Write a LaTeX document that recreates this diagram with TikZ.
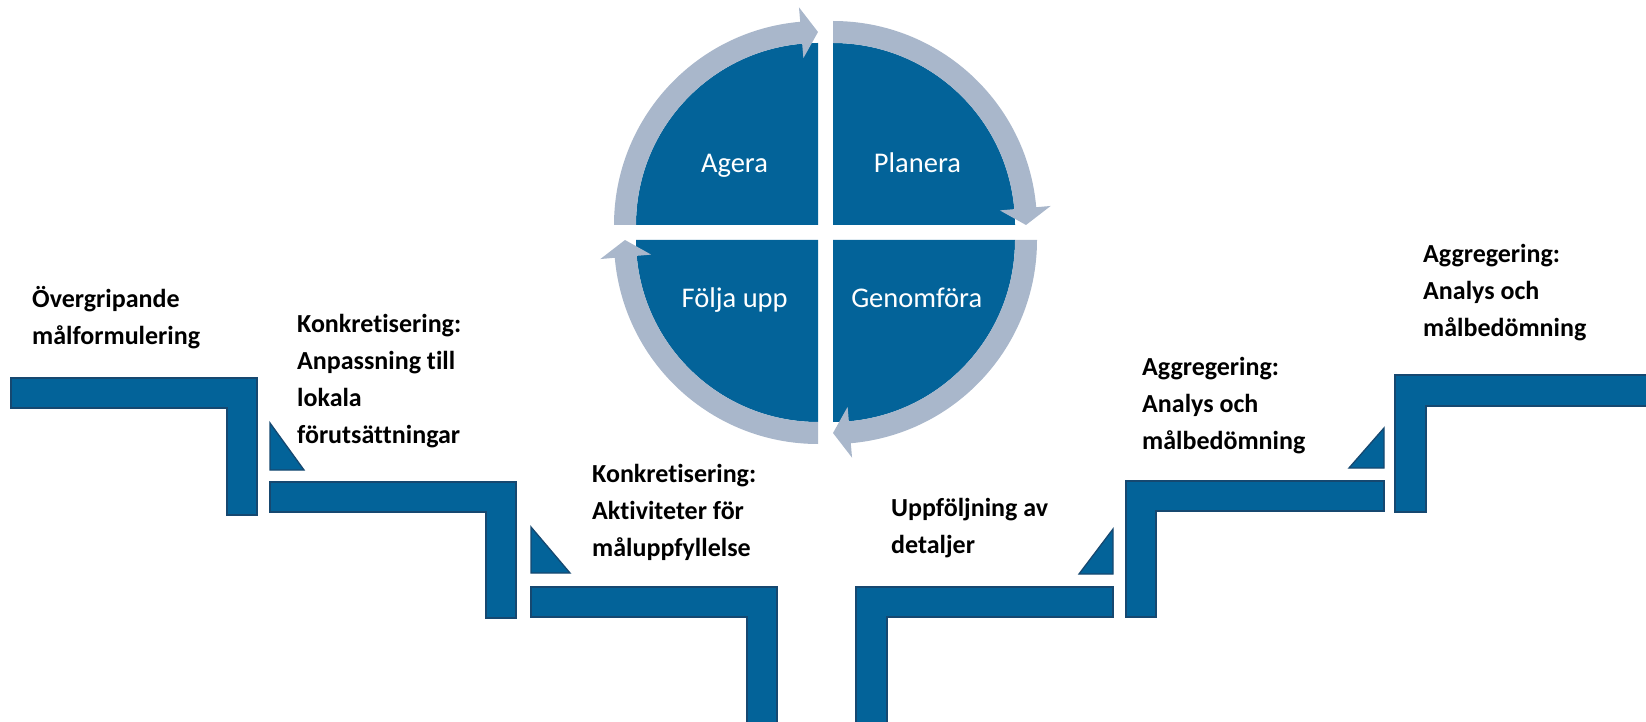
\documentclass[tikz,border=0pt]{standalone}
\usepackage{fontspec}
\setmainfont{Carlito}[Ligatures=NoCommon]
\definecolor{qblue}{RGB}{3,99,153}
\definecolor{ringc}{RGB}{169,183,203}
\definecolor{edgeb}{RGB}{22,72,112}
\tikzset{
  quad/.style={fill=qblue},
  ring/.style={fill=ringc},
  stepbox/.style={fill=qblue, draw=edgeb, line width=1.3pt, line join=miter},
  qtext/.style={text=white, font=\fontsize{28.5}{34}\selectfont, inner sep=0pt, anchor=base},
  lbl/.style={font=\bfseries\fontsize{26}{37}\selectfont, align=left, inner sep=0pt, anchor=base west}
}
% ring arrow: centre x, centre y, start angle (runs clockwise 90 degrees)
\newcommand\ringarrow[3]{%
  \begin{scope}[shift={(#1,#2)}]
    \fill[ring] ({#3}:204pt) arc[start angle={#3}, end angle={#3-85}, radius=204pt]
      -- ({#3-85}:218.5pt) -- ({#3-90}:193pt) -- ({#3-85}:167.5pt) -- ({#3-85}:182pt)
      arc[start angle={#3-85}, end angle={#3}, radius=182pt] -- cycle;
  \end{scope}}
\begin{document}
\begin{tikzpicture}[x=1pt,y=1pt]
\useasboundingbox (0,0) rectangle (1646,721);
\clip (0,0) rectangle (1646,721);

% quadrants
\fill[quad] (818,496) -- (636,496) arc[start angle=180, end angle=90, radius=182pt] -- cycle;
\fill[quad] (833,496) -- (833,678) arc[start angle=90, end angle=0, radius=182pt] -- cycle;
\fill[quad] (833,481) -- (1015,481) arc[start angle=0, end angle=-90, radius=182pt] -- cycle;
\fill[quad] (818,481) -- (818,299) arc[start angle=-90, end angle=-180, radius=182pt] -- cycle;

% ring arrows
\ringarrow{818}{496}{180}
\ringarrow{833}{496}{90}
\ringarrow{833}{481}{0}
\ringarrow{818}{481}{-90}

\node[qtext] (agera) at (734.5,548) {Agera};
\node[qtext] (planera) at (917.5,548) {Planera};
\node[qtext] (folja) at (734.7,413) {Följa upp};
\node[qtext] (genom) at (916.7,413) {Genomföra};

% left steps
\draw[stepbox] (11,343) -- (257,343) -- (257,206) -- (227,206) -- (227,313) -- (11,313) -- cycle;
\draw[stepbox] (270,298) -- (270,251) -- (304,251) -- cycle;
\draw[stepbox] (270,239) -- (516,239) -- (516,103) -- (486,103) -- (486,209) -- (270,209) -- cycle;
\draw[stepbox] (531,194) -- (531,148) -- (570,148) -- cycle;
\draw[stepbox] (531,134) -- (777,134) -- (777,-10) -- (747,-10) -- (747,104) -- (531,104) -- cycle;

% right steps
\draw[stepbox] (856,-10) -- (856,134) -- (1113,134) -- (1113,104) -- (887,104) -- (887,-10) -- cycle;
\draw[stepbox] (1113,192) -- (1113,147) -- (1079,147) -- cycle;
\draw[stepbox] (1126,104) -- (1126,240) -- (1384,240) -- (1384,210) -- (1156,210) -- (1156,104) -- cycle;
\draw[stepbox] (1384,293) -- (1384,253) -- (1349,253) -- cycle;
\draw[stepbox] (1395,209) -- (1395,346) -- (1660,346) -- (1660,315) -- (1426,315) -- (1426,209) -- cycle;

% labels (anchored at the baseline of the last line)
\node[lbl] (l1) at (32,376) {Övergripande\\målformulering};
\node[lbl] (l2) at (297,278) {Konkretisering:\\Anpassning till\\lokala\\förutsättningar};
\node[lbl] (l3) at (592,165) {Konkretisering:\\Aktiviteter för\\måluppfyllelse};
\node[lbl] (l4) at (891,168) {Uppföljning av\\detaljer};
\node[lbl] (l5) at (1142,272) {Aggregering:\\Analys och\\målbedömning};
\node[lbl] (l6) at (1423,384) {Aggregering:\\Analys och\\målbedömning};
\end{tikzpicture}
\end{document}
